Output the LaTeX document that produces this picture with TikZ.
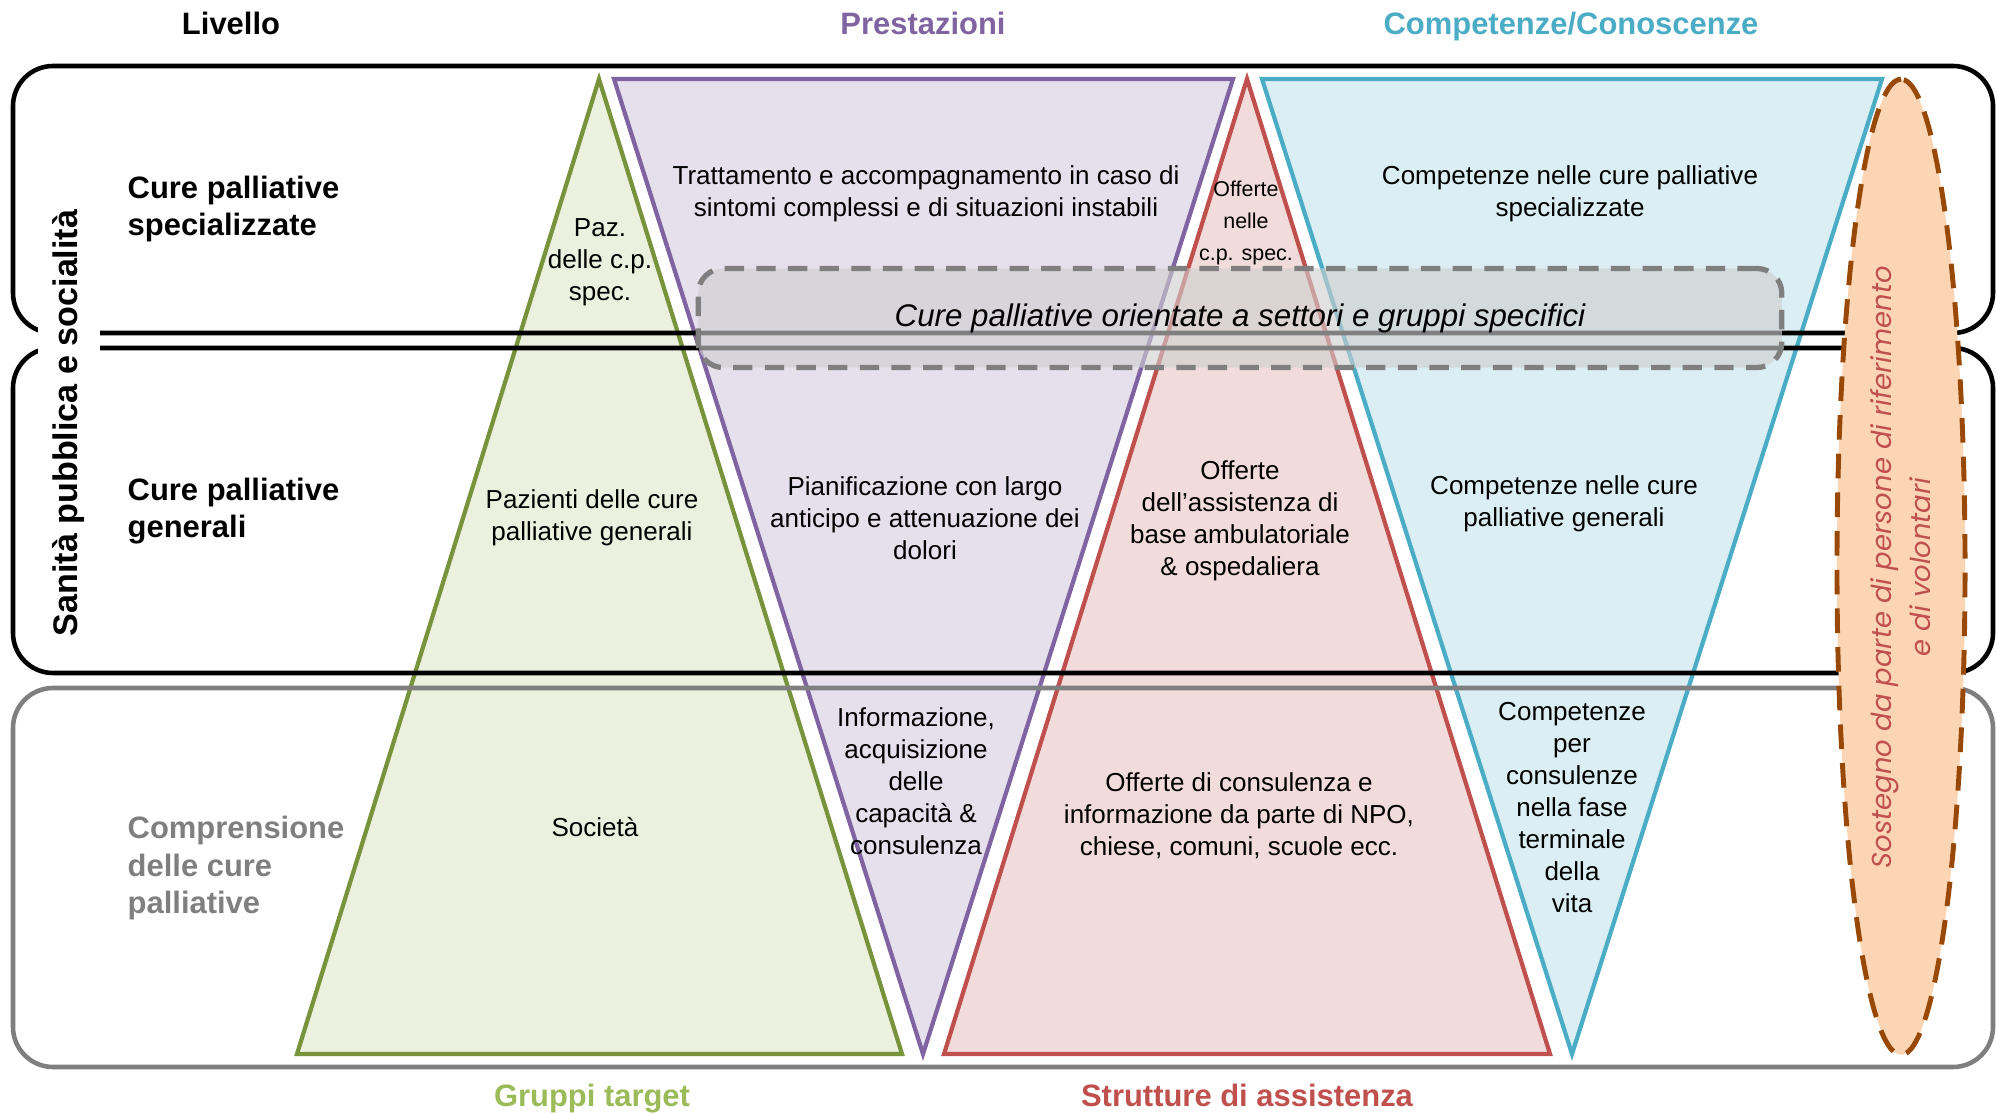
\documentclass[tikz,border=0pt]{standalone}
\usepackage{fontspec}
\setmainfont{Liberation Sans}
\newfontfamily\gothic{Poppins}
\usetikzlibrary{positioning,shapes.geometric}
\tikzset{>=latex}
\definecolor{grn}{HTML}{77933C}
\definecolor{grnfill}{HTML}{EBF1DE}
\definecolor{grnhead}{HTML}{9BBB59}
\definecolor{prp}{HTML}{8064A2}
\definecolor{prpfill}{HTML}{E5E0EC}
\definecolor{rd}{HTML}{C0504D}
\definecolor{rdfill}{HTML}{F2DCDB}
\definecolor{blu}{HTML}{4BACC6}
\definecolor{blufill}{HTML}{DAEEF3}
\definecolor{orfill}{HTML}{FCD5B5}
\definecolor{brn}{HTML}{984807}
\definecolor{gry}{HTML}{7F7F7F}

\begin{document}
\begin{tikzpicture}[x=0.01cm,y=-0.01cm,
  tri/.style={line width=1.2pt},
  lev/.style={line width=1.3pt,rounded corners=0.4cm},
  head/.style={font=\bfseries\fontsize{8.8}{10.5}\selectfont,inner sep=0pt},
  lab/.style={head,align=left,anchor=west},
  txt/.style={font=\fontsize{7.4}{9.1}\selectfont,align=center,inner sep=0pt},
  orient/.style={draw=gry,line width=1.5pt,dash pattern=on 5.5pt off 3.5pt,fill=black!19,fill opacity=0.62,text opacity=1,
    rounded corners=0.25cm,minimum width=10.83cm,minimum height=0.99cm,font=\itshape\fontsize{8.9}{10}\selectfont},
  support/.style={ellipse,draw=brn,line width=1.4pt,dash pattern=on 7pt off 4pt,fill=orfill,minimum width=9.75cm,
    minimum height=1.28cm,inner sep=0pt,text=rd,align=center,font=\gothic\itshape\fontsize{7.8}{11.1}\selectfont}]
\useasboundingbox (0,0) rectangle (1997,1113);
\draw[tri,grn,fill=grnfill] (599,79) -- (902,1054) -- (297,1054) -- cycle;
\draw[tri,prp,fill=prpfill] (614,79) -- (1233,79) -- (923,1054) -- cycle;
\draw[tri,rd,fill=rdfill] (1247,79) -- (1550,1054) -- (944,1054) -- cycle;
\draw[tri,blu,fill=blufill] (1262,79) -- (1882,79) -- (1572,1054) -- cycle;
\draw[lev] (13,66) rectangle (1993,333);
\draw[lev] (13,348) rectangle (1993,673);
\draw[lev,gry] (13,688) rectangle (1993,1067);
\node[orient] (orient) at (1240,318) {Cure palliative orientate a settori e gruppi specifici};
\node[head,anchor=base] (livello) at (231,35) {Livello};
\node[head,anchor=base,prp] (prest) at (923,35) {Prestazioni};
\node[head,anchor=base,blu] (comp) at (1571,35) {Competenze/Conoscenze};
\node[head,anchor=base,grnhead] (gruppi) at (592,1106) {Gruppi target};
\node[head,anchor=base,rd] (strutt) at (1247,1106) {Strutture di assistenza};
\node[lab] (spec) at (127,209) {Cure palliative\\specializzate};
\node[lab] (gen) at (127,511) {Cure palliative\\generali};
\node[lab,gry,font=\bfseries\fontsize{8.8}{10.8}\selectfont] (compr) at (127,868) {Comprensione\\delle cure\\palliative};
\node[txt] (pazspec) at (600,262) {Paz.\\delle c.p.\\spec.};
\node[txt] (pazgen) at (592,518) {Pazienti delle cure\\palliative generali};
\node[txt] (societa) at (595,827) {Società};
\node[txt] (tratt) at (926,194) {Trattamento e accompagnamento in caso di\\sintomi complessi e di situazioni instabili};
\node[txt] (pianif) at (925,518) {Pianificazione con largo\\anticipo e attenuazione dei\\dolori};
\node[txt] (inform) at (916,781) {Informazione,\\acquisizione\\delle\\capacità \&\\consulenza};
\node[txt,font=\fontsize{6.1}{9.1}\selectfont] (offspec) at (1246,223) {Offerte\\nelle\\c.p. spec.};
\node[txt] (offbase) at (1240,521) {Offerte\\dell’assistenza di\\base ambulatoriale\\\& ospedaliera};
\node[txt] (offcons) at (1239,816) {Offerte di consulenza e\\informazione da parte di NPO,\\chiese, comuni, scuole ecc.};
\node[txt] (compspec) at (1570,194) {Competenze nelle cure palliative\\specializzate};
\node[txt] (compgen) at (1564,504) {Competenze nelle cure\\palliative generali};
\node[txt] (compterm) at (1572,808) {Competenze\\per\\consulenze\\nella fase\\terminale\\della\\vita};
\node[support,rotate=90] (support) at (1901,567) {Sostegno da parte di persone di riferimento\\e di volontari};
\node[head,font=\bfseries\fontsize{9.7}{11}\selectfont,rotate=90,fill=white,inner xsep=2pt,inner ysep=4.3pt] (sanita) at (69,423) {Sanità pubblica e socialità};
\end{tikzpicture}
\end{document}
